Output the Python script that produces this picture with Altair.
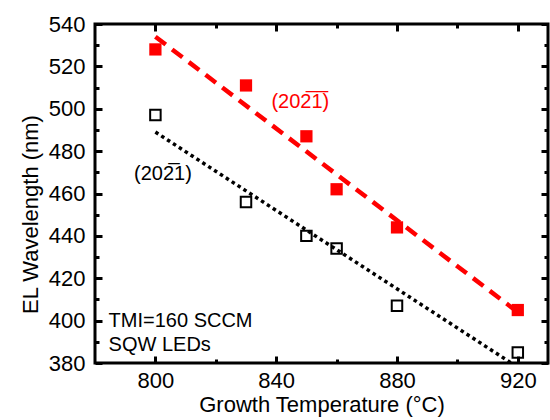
import altair as alt
import pandas as pd

# ---- data ----
temps = [800, 830, 850, 860, 880, 920]
red_wl = [528, 511, 487, 462, 444, 405]      # (20-2-1) filled red squares
black_wl = [497, 456, 440, 434, 407, 385]    # (20-21) open black squares

fit_temps = [800, 920]
red_fit = [534, 404]
black_fit = [489, 378]

x_major = [800, 840, 880, 920]
x_minor = [820, 860, 900]
y_major = [380, 400, 420, 440, 460, 480, 500, 520, 540]
y_minor = [390, 410, 430, 450, 470, 490, 510, 530]

ann_text = ["(202\u03051\u0305)", "(202\u03051)", "TMI=160 SCCM", "SQW LEDs"]
ann_x = [848, 802.5, 784.5, 784.5]
ann_y = [503, 469, 400, 388.5]
ann_color = ["red", "black", "black", "black"]
ann_align = ["center", "center", "left", "left"]

FONT = "Liberation Sans"

pts = pd.DataFrame({"T": temps, "red": red_wl, "black": black_wl})
fit = pd.DataFrame({"T": fit_temps, "red": red_fit, "black": black_fit})
ann = pd.DataFrame({"t": ann_text, "x": ann_x, "y": ann_y, "c": ann_color, "a": ann_align})

xs = alt.Scale(domain=[780, 930], nice=False, zero=False)
ys = alt.Scale(domain=[380, 540], nice=False, zero=False)


def tick_axis(orient, values, size, labels=False, **kw):
    return alt.Axis(orient=orient, values=values, offset=-size, tickSize=size,
                    tickWidth=3, tickColor="black", domain=False, grid=False,
                    labels=labels, **kw)


x_main = tick_axis("bottom", x_major, 7, labels=True, format="d",
                   labelFont=FONT, labelFontSize=22, labelColor="black", labelPadding=7,
                   title="Growth Temperature (\u00b0C)", titleFont=FONT, titleFontSize=22,
                   titleFontWeight="normal", titleColor="black", titlePadding=3)
y_main = tick_axis("left", y_major, 7, labels=True, format="d",
                   labelFont=FONT, labelFontSize=22, labelColor="black", labelPadding=10,
                   title="EL Wavelength (nm)", titleFont=FONT, titleFontSize=22,
                   titleFontWeight="normal", titleColor="black", titlePadding=6, titleY=190)

red_line = alt.Chart(fit).mark_line(color="red", strokeWidth=4.5, strokeDash=[13, 8], clip=True).encode(
    x=alt.X("T:Q", scale=xs, axis=x_main),
    y=alt.Y("red:Q", scale=ys, axis=y_main),
)
black_line = alt.Chart(fit).mark_line(color="black", strokeWidth=3.5, strokeDash=[3.5, 3.5], clip=True).encode(
    x=alt.X("T:Q", scale=xs, axis=tick_axis("top", x_major, 7, title=None)),
    y=alt.Y("black:Q", scale=ys, axis=tick_axis("right", y_major, 7, title=None)),
)
red_pts = alt.Chart(pts).mark_point(shape="square", filled=True, color="red", size=150, opacity=1).encode(
    x=alt.X("T:Q", scale=xs, axis=tick_axis("bottom", x_minor, 4, title=None)),
    y=alt.Y("red:Q", scale=ys, axis=tick_axis("left", y_minor, 4, title=None)),
)
black_pts = alt.Chart(pts).mark_point(shape="square", filled=False, color="black", size=110,
                                      strokeWidth=2, opacity=1).encode(
    x=alt.X("T:Q", scale=xs, axis=tick_axis("top", x_minor, 4, title=None)),
    y=alt.Y("black:Q", scale=ys, axis=tick_axis("right", y_minor, 4, title=None)),
)

texts = []
for align in ["center", "left"]:
    texts.append(
        alt.Chart(ann).transform_filter(alt.datum.a == align).mark_text(
            font=FONT, fontSize=20, align=align, baseline="middle"
        ).encode(
            x=alt.X("x:Q", scale=xs, axis=None),
            y=alt.Y("y:Q", scale=ys, axis=None),
            text="t:N",
            color=alt.Color("c:N", scale=None),
        )
    )

chart = alt.layer(red_line, black_line, red_pts, black_pts, *texts).resolve_axis(
    x="independent", y="independent"
).properties(
    width=453, height=339,
    autosize=alt.AutoSizeParams(type="none"),
    padding={"left": 95, "top": 24, "right": 2, "bottom": 57},
    background="white",
).configure_view(stroke="black", strokeWidth=3)

chart.save("out.html", embed_options={"renderer": "svg", "actions": False})
